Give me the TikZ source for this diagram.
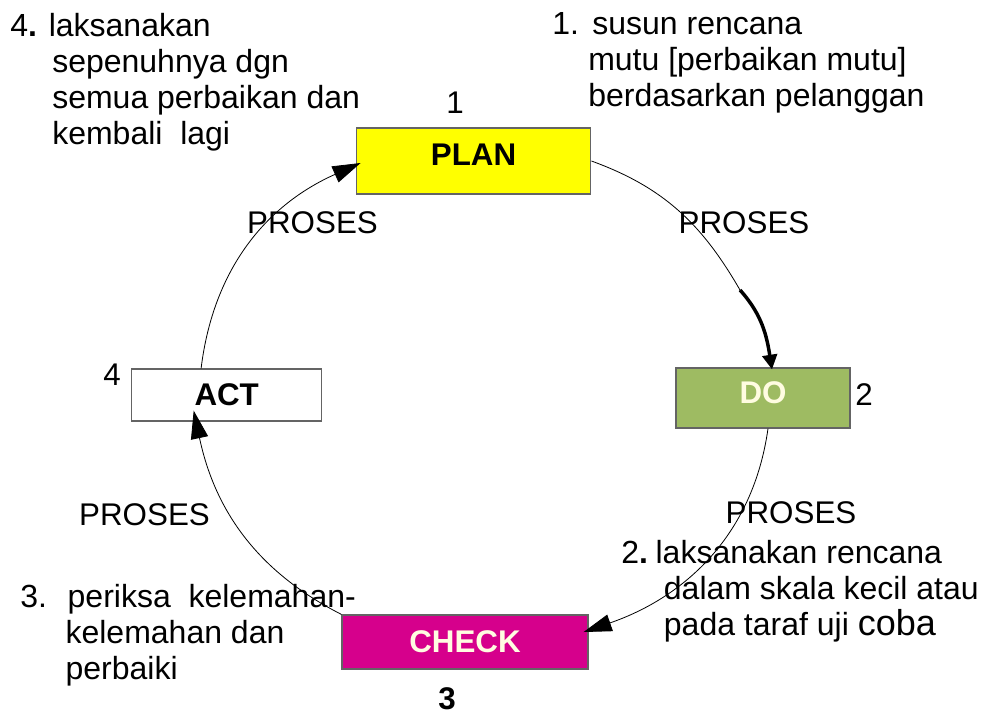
\documentclass[tikz,border=0pt]{standalone}
\usepackage{fontspec}
\setmainfont{Liberation Sans}
\usetikzlibrary{arrows.meta, positioning, calc}
\definecolor{planyellow}{RGB}{255,255,0}
\definecolor{dogreen}{RGB}{158,187,98}
\definecolor{checkpink}{RGB}{214,0,140}
\definecolor{boxgray}{RGB}{100,100,100}
\definecolor{cream}{RGB}{255,252,225}
\newcommand{\pdcafont}{\fontsize{23.5}{27}\selectfont}
\newcommand{\notefont}{\fontsize{24}{27}\selectfont}
\tikzset{
  stage/.style={rectangle, draw=boxgray, line width=0.9pt,
    font=\pdcafont\bfseries, inner sep=2pt},
  cyc/.style={line width=0.6pt, color=black},
  cycarrow/.style={-{Triangle[length=21pt,width=13pt]}, line width=0.6pt, color=black},
  bigarrow/.style={-{Triangle[length=11pt,width=11pt]}, line width=2.6pt, color=black},
  note/.style={anchor=north west, align=left, inner sep=0pt, font=\notefont},
  proses/.style={anchor=base, inner sep=0pt}
}

\begin{document}
\begin{tikzpicture}[x=0.75pt, y=-0.75pt, every node/.style={font=\pdcafont}]
  \useasboundingbox (0,0) rectangle (986,715);

  % Stages of the cycle
  \node[stage, fill=planyellow, minimum width=176pt, minimum height=49.5pt, text depth=10pt] (planbox) at (473.5,161) {PLAN};
  \node[stage, fill=dogreen, text=cream, minimum width=130.5pt, minimum height=45pt, text depth=7.5pt] (dobox) at (763,398) {DO};
  \node[stage, fill=white, minimum width=142.5pt, minimum height=39pt] (actbox) at (226.7,395) {ACT};
  \node[stage, fill=checkpink, text=cream, minimum width=184.5pt, minimum height=40.5pt] (checkbox) at (465,642) {CHECK};

  % Step numbers
  \node[anchor=base, inner sep=0pt] (num1) at (455,113) {1};
  \node[anchor=base west, inner sep=0pt] (num2) at (855,405) {2};
  \node[anchor=base, inner sep=0pt, font=\pdcafont\bfseries] (num3) at (447,709) {3};
  \node[anchor=base west, inner sep=0pt] (num4) at (103,385) {4};

  % Cycle arcs
  \coordinate (dostart) at (740,290);
  \draw[cyc] (planbox.east) to[out=-20, in=120] (dostart);
  \draw[bigarrow] (dostart) to[out=-48, in=99] ($(dobox.north)+(9,2)$);
  \draw[cycarrow] ($(dobox.south)+(5,0)$) to[out=-98, in=19] ($(checkbox.east)+(-5,-10)$);
  \draw[cycarrow] (checkbox.north west) to[out=153, in=-78] ($(actbox.south)+(-33,-11)$);
  \draw[cycarrow] ($(actbox.north west)+(70,0)$) to[out=83, in=204] ($(planbox.west)+(5,2)$);

  % Process labels
  \node[proses] (proses1) at (312.5,233) {PROSES};
  \node[proses] (proses2) at (744,233) {PROSES};
  \node[proses] (proses3) at (791,523) {PROSES};
  \node[proses] (proses4) at (144.5,525) {PROSES};

  % Notes
  \node[note] (note1) at (552,12) {1.\hspace{0.42em}susun rencana\\\hspace*{27pt}mutu [perbaikan mutu]\\\hspace*{27pt}berdasarkan pelanggan};
  \node[note] (note2) at (621,540) {2\textbf{.}\hspace{0.24em}laksanakan rencana\\\hspace*{32pt}dalam skala kecil atau\\\hspace*{32pt}pada taraf uji {\fontsize{27}{27}\selectfont coba}};
  \node[note] (note3) at (20,584) {3.~ periksa~ kelemahan-\\\hspace*{34pt}kelemahan dan\\\hspace*{34pt}perbaiki};
  \node[note] (note4) at (10,13) {4\textbf{.} laksanakan\\\hspace*{31.5pt}sepenuhnya dgn\\\hspace*{31.5pt}semua perbaikan dan\\\hspace*{31.5pt}kembali~ lagi};
\end{tikzpicture}
\end{document}
